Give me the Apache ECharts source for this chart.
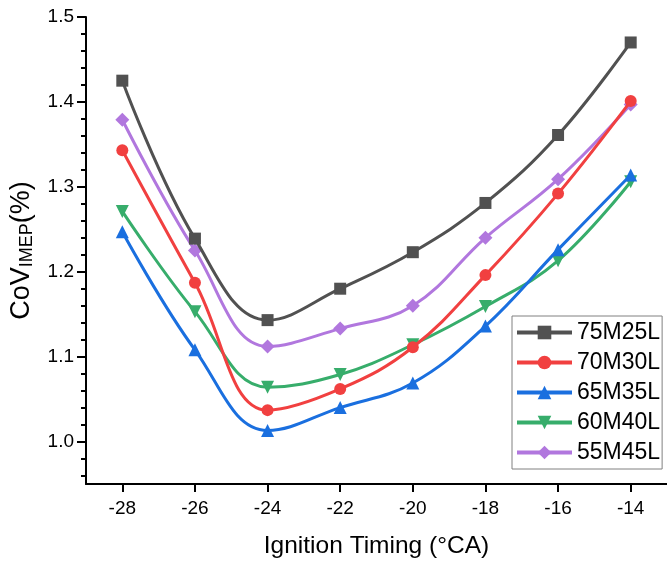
<!DOCTYPE html>
<html>
<head>
<meta charset="utf-8">
<script src="https://cdn.jsdelivr.net/npm/echarts@6/dist/echarts.min.js"></script>
<style>html,body{margin:0;padding:0;background:#fff;}#c{width:667px;height:564px;}</style>
</head>
<body>
<div id="c"></div>
<script>
var ignition = [-28, -26, -24, -22, -20, -18, -16, -14];
var s75M25L = [1.425, 1.239, 1.143, 1.180, 1.223, 1.281, 1.361, 1.470];
var s70M30L = [1.343, 1.187, 1.037, 1.062, 1.111, 1.196, 1.292, 1.401];
var s65M35L = [1.247, 1.108, 1.013, 1.040, 1.069, 1.136, 1.226, 1.314];
var s60M40L = [1.271, 1.153, 1.064, 1.079, 1.114, 1.159, 1.213, 1.306];
var s55M45L = [1.379, 1.225, 1.112, 1.133, 1.160, 1.240, 1.309, 1.397];
var seriesNames = ['75M25L', '70M30L', '65M35L', '60M40L', '55M45L'];
var xTicks = [-28, -26, -24, -22, -20, -18, -16, -14];
var yTicks = [1.0, 1.1, 1.2, 1.3, 1.4, 1.5];
var yMinorTicks = [0.96, 0.98, 1.02, 1.04, 1.06, 1.08, 1.12, 1.14, 1.16, 1.18, 1.22, 1.24, 1.26, 1.28, 1.32, 1.34, 1.36, 1.38, 1.42, 1.44, 1.46, 1.48];

var colors = ['#515151', '#F14040', '#1A6FDF', '#37AD6B', '#B177DE'];
var symbols = ['rect', 'circle', 'triangle', 'path://M0,0 L10,0 L5,9 Z', 'diamond'];
var symbolSizes = [12, 12, 13, 13, 14];
var allData = [s75M25L, s70M30L, s65M35L, s60M40L, s55M45L];

var chart = echarts.init(document.getElementById('c'));
var font = 'Liberation Sans, Arial, sans-serif';
var series = allData.map(function (vals, i) {
  return {
    name: seriesNames[i],
    type: 'line',
    smooth: 0.4,
    data: ignition.map(function (x, j) { return [x, vals[j]]; }),
    symbol: symbols[i],
    symbolSize: symbolSizes[i],
    lineStyle: { width: 3, color: colors[i] },
    itemStyle: { color: colors[i] },
    z: 5 - i
  };
});

chart.setOption({
  animation: false,
  color: colors,
  grid: { left: 86, right: 0, top: 17, bottom: 77, containLabel: false },
  xAxis: {
    type: 'value',
    min: -29,
    max: -13,
    name: 'Ignition Timing (°CA)',
    nameLocation: 'middle',
    nameGap: 50,
    nameTextStyle: { fontFamily: font, fontSize: 24.5, color: '#000' },
    axisLine: { show: true, lineStyle: { color: '#000', width: 2 } },
    axisTick: { show: true, inside: false, length: 8, lineStyle: { color: '#000', width: 2 }, customValues: xTicks },
    axisLabel: { color: '#000', fontFamily: font, fontSize: 19, margin: 15, customValues: xTicks },
    splitLine: { show: false }
  },
  yAxis: [{
    type: 'value',
    min: 0.95,
    max: 1.5,
    name: '{a|CoV}{b|IMEP}{a|(%)}',
    nameLocation: 'middle',
    nameGap: 50,
    nameRotate: 90,
    nameTextStyle: {
      fontFamily: font, color: '#000',
      rich: {
        a: { fontFamily: font, fontSize: 27, color: '#000' },
        b: { fontFamily: font, fontSize: 18, color: '#000', padding: [10, 0, 0, 0] }
      }
    },
    axisLine: { show: true, lineStyle: { color: '#000', width: 2 } },
    axisTick: { show: true, inside: false, length: 9, lineStyle: { color: '#000', width: 2 }, customValues: yTicks },
    axisLabel: { color: '#000', fontFamily: font, fontSize: 19, margin: 12, customValues: yTicks, formatter: function (v) { return v.toFixed(1); } },
    splitLine: { show: false }
  }, {
    type: 'value',
    min: 0.95,
    max: 1.5,
    position: 'left',
    axisLine: { show: false },
    axisTick: { show: true, inside: false, length: 5, lineStyle: { color: '#000', width: 2 }, customValues: yMinorTicks },
    axisLabel: { show: false },
    splitLine: { show: false }
  }],
  legend: {
    orient: 'vertical',
    left: 512,
    top: 316,
    width: 152,
    itemWidth: 55,
    itemHeight: 17,
    itemGap: 7,
    padding: [5, 2, 5, 3],
    borderColor: '#808080',
    borderWidth: 1,
    backgroundColor: '#fff',
    lineStyle: { width: 4 },
    textStyle: { fontFamily: font, fontSize: 23, color: '#000' },
    data: seriesNames
  },
  series: series
});
</script>
</body>
</html>
